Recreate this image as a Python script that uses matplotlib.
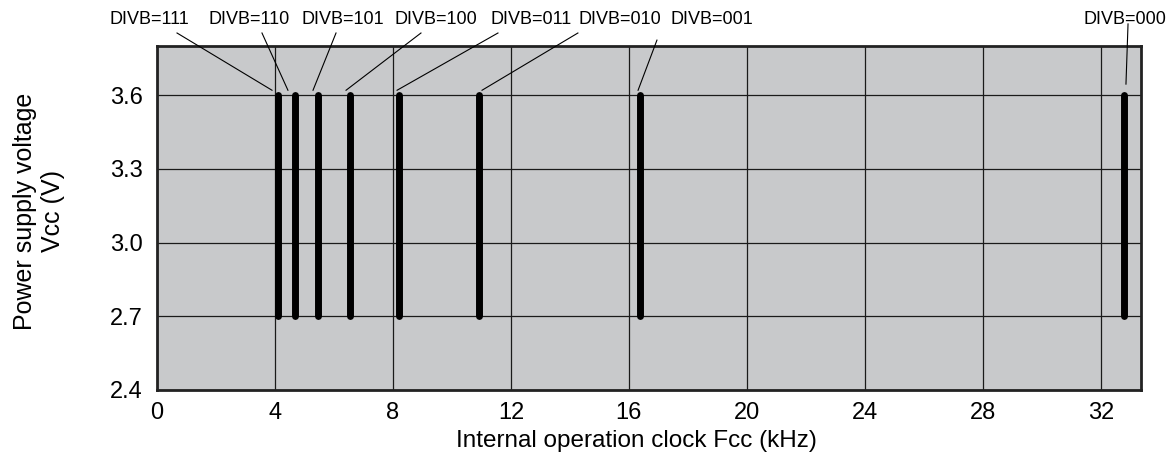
import matplotlib
matplotlib.use('Agg')
import matplotlib.pyplot as plt

# данные: частоты для каждого DIVB и диапазон напряжения
divb_labels = ['DIVB=111', 'DIVB=110', 'DIVB=101', 'DIVB=100',
               'DIVB=011', 'DIVB=010', 'DIVB=001', 'DIVB=000']
fcc_khz = [4.096, 4.681, 5.461, 6.554, 8.192, 10.923, 16.384, 32.768]
vcc_min = 2.7
vcc_max = 3.6

x_ticks = [0, 4, 8, 12, 16, 20, 24, 28, 32]
y_ticks = [2.4, 2.7, 3.0, 3.3, 3.6]

# положение подписей и выносок (разметка)
label_x = [-0.27, 3.12, 6.31, 9.46, 12.68, 15.69, 18.81, 32.81]
lead_start = [(0.68, 3.853), (3.56, 3.853), (6.07, 3.853), (8.95, 3.853),
              (11.56, 3.853), (14.27, 3.853), (16.95, 3.824), (32.92, 3.89)]
lead_end = [(3.90, 3.62), (4.44, 3.62), (5.29, 3.62), (6.41, 3.62),
            (8.14, 3.62), (11.02, 3.62), (16.31, 3.62), (32.85, 3.645)]

plt.rcParams['font.family'] = ['Liberation Sans', 'DejaVu Sans']

fig = plt.figure(figsize=(11.74, 4.63), dpi=100)
ax = fig.add_axes([0.1337, 0.1577, 0.9719 - 0.1337, 0.9006 - 0.1577])
ax.set_facecolor('#c8c9cb')

for f in fcc_khz:
    ax.plot([f, f], [vcc_min, vcc_max], color='black', lw=5,
            solid_capstyle='round', zorder=3)

for lab, lx, (xs, ys), (xe, ye) in zip(divb_labels, label_x, lead_start, lead_end):
    ax.text(lx, 3.906, lab, ha='center', va='center', fontsize=13, clip_on=False)
    ax.plot([xs, xe], [ys, ye], color='black', lw=0.8, clip_on=False, zorder=4)

ax.set_xlim(0, 33.36)
ax.set_ylim(2.4, 3.8)
ax.set_xticks(x_ticks)
ax.set_yticks(y_ticks)
ax.set_yticklabels(['%.1f' % v for v in y_ticks])
ax.tick_params(length=0, labelsize=17)
ax.tick_params(axis='x', pad=9)
ax.tick_params(axis='y', pad=10)
ax.grid(True, color='#1a1a1a', lw=0.9)
ax.set_axisbelow(True)
for s in ax.spines.values():
    s.set_linewidth(2)
    s.set_color('#222222')

ax.set_xlabel('Internal operation clock Fcc (kHz)', fontsize=17.5)
ax.xaxis.set_label_coords(0.487, -0.115)
ax.set_ylabel('Power supply voltage\nVcc (V)', fontsize=18)
ax.yaxis.set_label_coords(-0.0935, 0.52)

fig.savefig('out.png', dpi=100)
